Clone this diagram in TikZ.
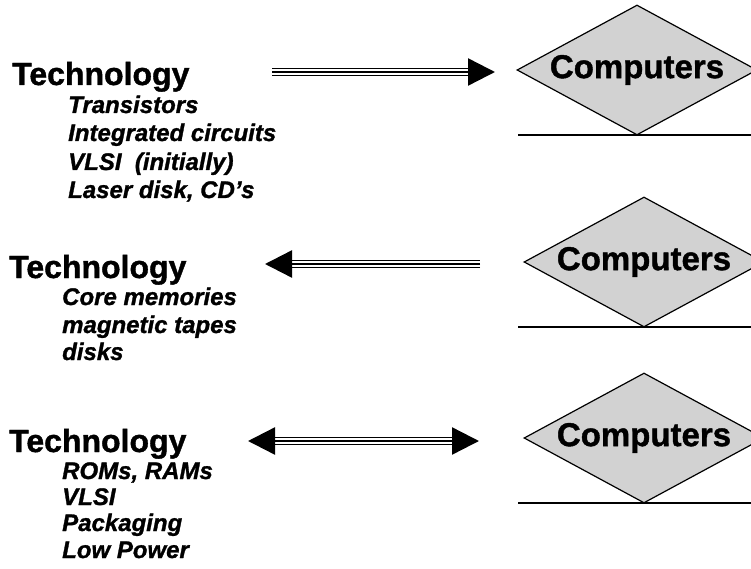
\documentclass[tikz,border=0pt]{standalone}
\usepackage{fontspec}
\setmainfont{Liberation Sans}[BoldFeatures={FakeBold=1.2}, BoldItalicFeatures={FakeBold=1.2}]
\usetikzlibrary{shapes.geometric,arrows.meta}
\definecolor{boxgray}{RGB}{210,210,210}
\tikzset{
  techlabel/.style={anchor=base west, inner sep=0pt, font=\bfseries\fontsize{32}{32}\selectfont},
  itemlabel/.style={anchor=base west, inner sep=0pt, font=\bfseries\itshape\fontsize{24}{24}\selectfont},
  compbox/.style={diamond, aspect=1.85, draw=black, line width=1.2pt, fill=boxgray, minimum width=240pt, minimum height=130pt, inner sep=0pt, font=\bfseries\fontsize{33}{33}\selectfont},
  ruleline/.style={draw=black, line width=1.4pt},
  headtip/.tip={Triangle[length=27pt,width=27pt]},
  triple/.style={line width=2.4pt,
    preaction={draw, -, line width=8.5pt, shorten <=#1, shorten >=27pt},
    preaction={draw, -, white, line width=5.5pt, shorten <=#1, shorten >=27pt}},
}
\begin{document}
\begin{tikzpicture}[x=1pt,y=-1pt]
\useasboundingbox (0,0) rectangle (751,569);

% first group: technology drives computers
\node[techlabel] (t1) at (12,85) {Technology};
\node[itemlabel] (t1a) at (68,113) {Transistors};
\node[itemlabel] (t1b) at (68,141) {Integrated circuits};
\node[itemlabel] (t1c) at (68,170) {VLSI\ \ (initially)};
\node[itemlabel] (t1d) at (68,198) {Laser disk, CD’s};

% second group: computers drive technology
\node[techlabel] (t2) at (9,278) {Technology};
\node[itemlabel] (t2a) at (62,305) {Core memories};
\node[itemlabel] (t2b) at (62,333) {magnetic tapes};
\node[itemlabel] (t2c) at (62,360) {disks};

% third group: both directions
\node[techlabel] (t3) at (9,452) {Technology};
\node[itemlabel] (t3a) at (62,479) {ROMs, RAMs};
\node[itemlabel] (t3b) at (62,505) {VLSI};
\node[itemlabel] (t3c) at (62,531) {Packaging};
\node[itemlabel] (t3d) at (62,558) {Low Power};

% computer diamonds with their base rules
\node[compbox] (c1) at (637,70) {Computers};
\node[compbox] (c2) at (644,262) {Computers};
\node[compbox] (c3) at (644,438) {Computers};

\coordinate (r1a) at (518,135); \coordinate (r1b) at (752,135);
\coordinate (r2a) at (518,327); \coordinate (r2b) at (752,327);
\coordinate (r3a) at (518,503); \coordinate (r3b) at (752,503);
\draw[ruleline] (r1a) -- (r1b);
\draw[ruleline] (r2a) -- (r2b);
\draw[ruleline] (r3a) -- (r3b);

% arrow ends
\coordinate (a1s) at (272,72);  \coordinate (a1e) at (495,72);
\coordinate (a2s) at (480,264); \coordinate (a2e) at (265,264);
\coordinate (a3s) at (248,441); \coordinate (a3e) at (479,441);

\draw[triple=0pt, -headtip] (a1s) -- (a1e);
\draw[triple=0pt, -headtip] (a2s) -- (a2e);
\draw[triple=27pt, headtip-headtip] (a3s) -- (a3e);
\end{tikzpicture}
\end{document}
